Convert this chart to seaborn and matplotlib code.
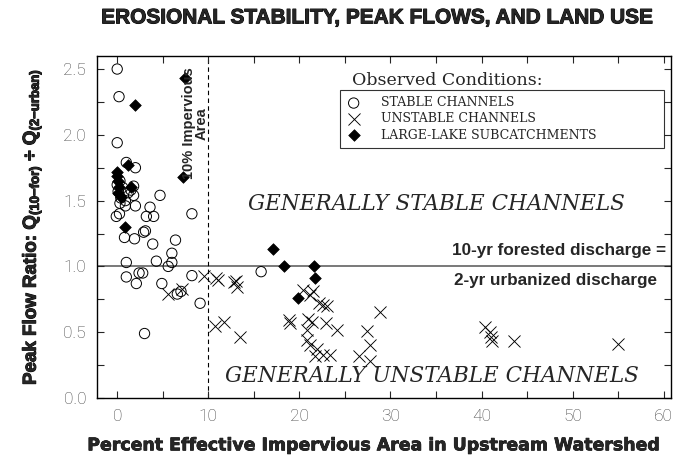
import pandas as pd
import numpy as np

import seaborn as sns
import matplotlib.pyplot as plt
import matplotlib.patheffects as pe
from matplotlib.ticker import MultipleLocator


# stable channels (open circles)
stable_x = [0.0, 0.2, 0.0, 1.0, 2.0, 0.3, 0.6, 1.8, 0.1, 1.2, 1.8, 0.4, 0.9, 0.0, 1.5,
            4.7, 0.3, 0.9, 2.0, 3.6, 0.25, -0.1, 3.2, 4.0, 8.2,
            0.8, 1.9, 2.9, 3.1, 3.9, 6.4, 6.0, 6.0, 1.0, 4.3, 5.6,
            1.0, 2.1, 2.4, 2.8, 4.9, 6.6, 7.0, 8.2, 9.1, 3.0, 15.8]
stable_y = [2.50, 2.29, 1.94, 1.79, 1.75, 1.65, 1.60, 1.61, 1.57, 1.56, 1.54, 1.52, 1.50, 1.62, 1.58,
            1.54, 1.48, 1.46, 1.46, 1.45, 1.40, 1.38, 1.38, 1.38, 1.40,
            1.22, 1.21, 1.26, 1.27, 1.17, 1.20, 1.10, 1.03, 1.03, 1.04, 1.00,
            0.92, 0.87, 0.95, 0.95, 0.87, 0.79, 0.81, 0.93, 0.72, 0.49, 0.96]

# unstable channels (crosses)
unstable_x = [5.6, 7.1, 9.5, 10.9, 11.1, 12.8, 13.1, 13.0, 10.7, 11.7, 13.5, 18.9, 19.0,
              20.4, 21.2, 21.5, 22.2, 22.6, 23.0, 21.0, 21.4, 20.8, 22.9, 24.1, 20.8, 21.2,
              21.9, 22.6, 23.4, 21.7, 27.4, 27.7, 26.5, 27.7, 28.8, 40.4, 40.9, 41.2, 41.0,
              43.6, 55.0]
unstable_y = [0.79, 0.83, 0.93, 0.91, 0.90, 0.88, 0.84, 0.89, 0.55, 0.58, 0.46, 0.59, 0.57,
              0.82, 0.78, 0.81, 0.72, 0.71, 0.70, 0.60, 0.58, 0.52, 0.57, 0.52, 0.44, 0.40,
              0.37, 0.33, 0.33, 0.32, 0.51, 0.40, 0.32, 0.28, 0.65, 0.54, 0.50, 0.43, 0.46,
              0.43, 0.41]

# large-lake subcatchments (filled diamonds)
lake_x = [7.4, 1.9, 7.2, 1.2, 0.0, 0.0, 0.1, 0.2, 0.1, 0.4, 1.5, 0.9,
          17.1, 18.3, 21.6, 21.7, 19.8]
lake_y = [2.43, 2.23, 1.68, 1.77, 1.72, 1.69, 1.65, 1.60, 1.56, 1.53, 1.60, 1.30,
          1.13, 1.00, 1.00, 0.91, 0.76]

x_ticks = [0, 10, 20, 30, 40, 50, 60]
y_ticks = [0.0, 0.5, 1.0, 1.5, 2.0, 2.5]

sns.set_style('ticks')
plt.rcParams['font.family'] = ['Liberation Sans', 'DejaVu Sans']
plt.rcParams['mathtext.fontset'] = 'custom'
plt.rcParams['mathtext.rm'] = 'Liberation Sans:bold'
plt.rcParams['mathtext.it'] = 'Liberation Sans:bold'
plt.rcParams['mathtext.bf'] = 'Liberation Sans:bold'
plt.rcParams['mathtext.default'] = 'bf'

heavy = [pe.withStroke(linewidth=0.7, foreground='black')]

fig = plt.figure(figsize=(6.99, 4.58), dpi=100)
ax = fig.add_axes([0.139, 0.131, 0.821, 0.747])

# the three groups
sns.scatterplot(x=stable_x, y=stable_y, ax=ax, marker='o', s=55,
                facecolors='none', edgecolor='black', linewidth=0.7,
                label='STABLE CHANNELS')
sns.scatterplot(x=unstable_x, y=unstable_y, ax=ax, marker='x', s=75,
                color='black', linewidth=0.65, label='UNSTABLE CHANNELS')
sns.scatterplot(x=lake_x, y=lake_y, ax=ax, marker='D', s=35,
                color='black', edgecolor='black', linewidth=0.5,
                label='LARGE-LAKE SUBCATCHMENTS')

# reference lines
ax.axhline(1.0, color='#555555', lw=1.1, zorder=0)
ax.axvline(10, color='black', lw=0.8, ls=(0, (4, 3)), zorder=0)

ax.set_xlim(-2.2, 60.8)
ax.set_ylim(0, 2.6)
ax.set_xticks(x_ticks)
ax.set_yticks(y_ticks)
ax.set_yticklabels([f'{v:.1f}' for v in y_ticks])
ax.xaxis.set_minor_locator(MultipleLocator(5))
ax.yaxis.set_minor_locator(MultipleLocator(0.25))
ax.tick_params(which='both', direction='in', top=True, right=True,
               length=5, width=0.8)
ax.tick_params(which='major', pad=8)
for lab in ax.get_xticklabels() + ax.get_yticklabels():
    lab.set_fontfamily(['Roboto', 'DejaVu Sans'])
    lab.set_fontweight('light')
    lab.set_fontsize(12.5)
    lab.set_color('#444444')
for sp in ax.spines.values():
    sp.set_linewidth(1.0)
    sp.set_color('black')

# annotations
ax.text(10.0, 2.51, '10% Impervious\nArea', rotation=90, ha='right', va='top',
        multialignment='center', fontsize=10.5, fontweight='bold', linespacing=0.85)
ax.text(35.1, 1.475, 'GENERALLY STABLE CHANNELS', ha='center', va='center',
        family='DejaVu Serif', style='italic', fontsize=15.5)
ax.text(34.6, 0.168, 'GENERALLY UNSTABLE CHANNELS', ha='center', va='center',
        family='DejaVu Serif', style='italic', fontsize=15.5)
ax.text(60.3, 1.12, '10-yr forested discharge =', ha='right', va='center',
        fontsize=12.3, fontweight='bold')
ax.text(59.3, 0.89, '2-yr urbanized discharge', ha='right', va='center',
        fontsize=12.3, fontweight='bold')
ax.text(25.8, 2.41, 'Observed Conditions:', ha='left', va='center',
        family='DejaVu Serif', fontsize=12.5)

leg = ax.legend(loc='upper left', bbox_to_anchor=(0.423, 0.90, 0.565, 0.0),
                mode='expand', frameon=True, fancybox=False, edgecolor='black',
                prop={'family': 'DejaVu Serif', 'size': 9},
                handletextpad=1.6, labelspacing=0.25, borderpad=0.5,
                handlelength=1.2, borderaxespad=0)
leg.get_frame().set_linewidth(0.8)

ax.set_xlabel('Percent Effective Impervious Area in Upstream Watershed',
              family='DejaVu Sans', fontsize=12.5, fontweight='bold',
              path_effects=[pe.withStroke(linewidth=0.5, foreground='black')])
ax.xaxis.set_label_coords(0.483, -0.112)
ax.set_ylabel(r'Peak Flow Ratio: Q$_{(10\mathrm{-}for)}$ $\div$ Q$_{(2\mathrm{-}urban)}$',
              fontsize=13.5, fontweight='bold', labelpad=14, path_effects=heavy)

fig.text(0.54, 0.961, 'EROSIONAL STABILITY, PEAK FLOWS, AND LAND USE',
         ha='center', va='center', fontsize=15, fontweight='bold', path_effects=heavy)

fig.savefig('out.png', dpi=100)
